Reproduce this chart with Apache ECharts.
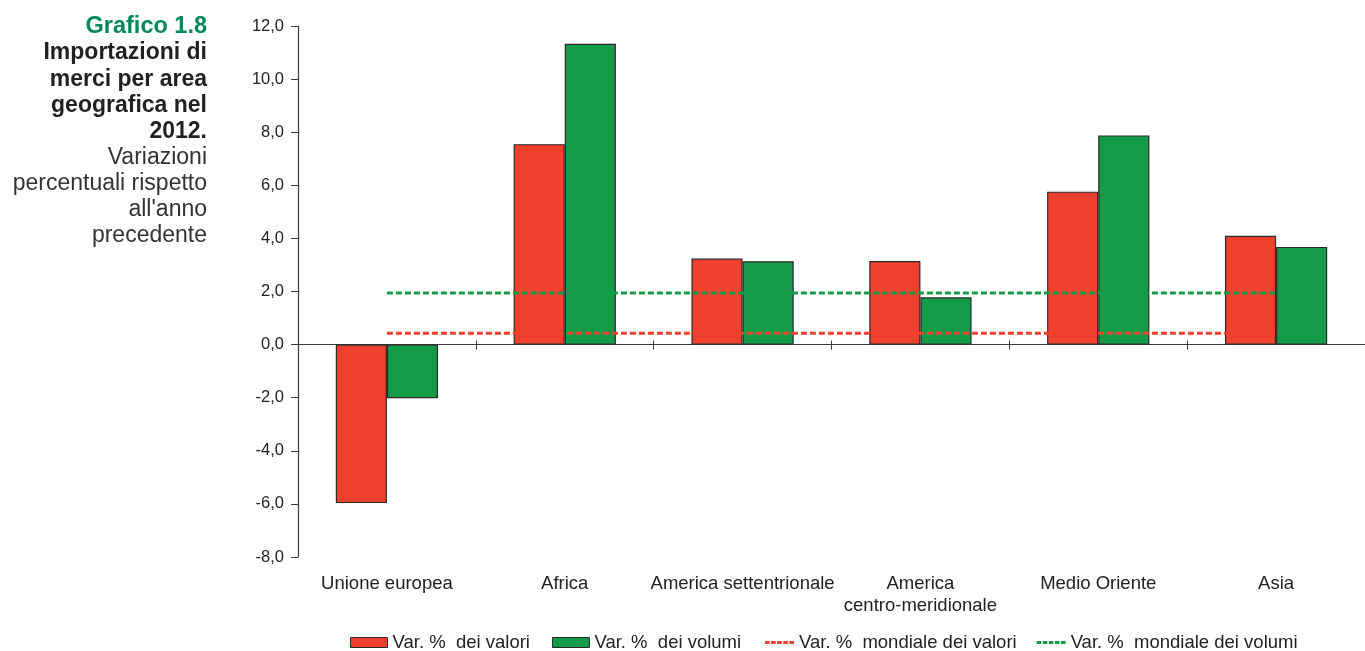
<!DOCTYPE html>
<html>
<head>
<meta charset="utf-8">
<script src="https://cdn.jsdelivr.net/npm/echarts@6/dist/echarts.min.js"></script>
<style>
html,body{margin:0;padding:0;background:#fff;}
#chart{width:1365px;height:651px;}
</style>
</head>
<body>
<div id="chart"></div>
<script>
var categories = ['Unione europea', 'Africa', 'America settentrionale', 'America\ncentro-meridionale', 'Medio Oriente', 'Asia'];
var valori = [-5.97, 7.55, 3.24, 3.15, 5.76, 4.10];
var volumi = [-2.02, 11.33, 3.14, 1.78, 7.88, 3.68];
var mondialeValori = [0.43, 0.43, 0.43, 0.43, 0.43, 0.43];
var mondialeVolumi = [1.94, 1.94, 1.94, 1.94, 1.94, 1.94];
var seriesNames = ['Var. %  dei valori', 'Var. %  dei volumi', 'Var. %  mondiale dei valori', 'Var. %  mondiale dei volumi'];
var titleLines = ['Grafico 1.8', 'Importazioni di', 'merci per area', 'geografica nel', '2012.', 'Variazioni', 'percentuali rispetto', "all'anno", 'precedente'];

var RED = '#EF412D', GREEN = '#149B48', BORDER = '#2a2a2a', AXIS = '#3c3c3c';
var FONT = '"Liberation Sans", Arial, Helvetica, sans-serif';
var DASH_ICON = 'path://M0,0h4.6v3h-4.6z M6.1,0h4.6v3h-4.6z M12.2,0h4.6v3h-4.6z M18.3,0h4.6v3h-4.6z M24.4,0h4.6v3h-4.6z';

var chart = echarts.init(document.getElementById('chart'));

var titleText = titleLines.map(function (t, i) {
  var s = i === 0 ? 'g' : (i <= 4 ? 'b' : 'n');
  return '{' + s + '|' + t + '}';
}).join('\n');

var option = {
  animation: false,
  textStyle: { fontFamily: FONT },
  graphic: [{
    type: 'text',
    right: 1365 - 207,
    top: 15,
    style: {
      text: titleText,
      align: 'right',
      fontFamily: FONT,
      rich: {
        g: { fontSize: 23.5, fontWeight: 'bold', fill: '#00875A', lineHeight: 26.1, align: 'right', fontFamily: FONT },
        b: { fontSize: 23, fontWeight: 'bold', fill: '#231F20', lineHeight: 26.1, align: 'right', fontFamily: FONT },
        n: { fontSize: 23, fontWeight: 'normal', fill: '#333333', lineHeight: 26.1, align: 'right', fontFamily: FONT }
      }
    }
  }],
  legend: [{
    data: [
      { name: seriesNames[0], icon: 'rect' },
      { name: seriesNames[1], icon: 'rect' }
    ],
    left: 345, top: 628,
    itemWidth: 37, itemHeight: 10, itemGap: 22,
    textStyle: { fontSize: 18.5, color: '#222', fontFamily: FONT },
    itemStyle: { borderColor: BORDER, borderWidth: 1 }
  }, {
    data: [
      { name: seriesNames[2], icon: DASH_ICON, itemStyle: { color: RED } },
      { name: seriesNames[3], icon: DASH_ICON, itemStyle: { color: GREEN } }
    ],
    left: 760, top: 628,
    itemWidth: 29, itemHeight: 3, itemGap: 20,
    textStyle: { fontSize: 18.5, color: '#222', fontFamily: FONT }
  }],
  grid: { left: 298, right: -7, top: 26, bottom: 94, containLabel: false },
  xAxis: [{
    type: 'category',
    data: categories,
    position: 'bottom',
    axisLine: { show: false, onZero: false },
    axisTick: { show: false },
    axisLabel: { interval: 0, margin: 16, fontSize: 18.5, lineHeight: 22, color: '#222', fontFamily: FONT }
  }, {
    type: 'category',
    data: categories,
    position: 'bottom',
    axisLine: { show: true, onZero: true, onZeroAxisIndex: 0, lineStyle: { color: AXIS, width: 1.2 } },
    axisTick: { show: true, length: 5, lineStyle: { color: AXIS, width: 1 } },
    axisLabel: { show: false }
  }, {
    type: 'category',
    data: categories,
    position: 'bottom',
    axisLine: { show: true, onZero: true, onZeroAxisIndex: 1, lineStyle: { color: AXIS, width: 1, opacity: 0 } },
    axisTick: { show: true, inside: true, length: 4, lineStyle: { color: AXIS, width: 1 } },
    axisLabel: { show: false }
  }],
  yAxis: [{
    type: 'value',
    min: -8, max: 12, interval: 2,
    axisLine: { show: true, lineStyle: { color: AXIS, width: 1.2 } },
    axisTick: { show: true, length: 7, lineStyle: { color: AXIS, width: 1 } },
    splitLine: { show: false },
    axisLabel: {
      margin: 14, fontSize: 16.5, color: '#222', fontFamily: FONT,
      formatter: function (v) { return v.toFixed(1).replace('.', ','); }
    }
  }, {
    type: 'value',
    min: -8, max: 12, interval: 2,
    position: 'right',
    axisLine: { show: false },
    axisTick: { show: false },
    axisLabel: { show: false },
    splitLine: { show: false }
  }],
  series: [{
    name: seriesNames[0], type: 'bar', data: valori, xAxisIndex: 0, yAxisIndex: 0,
    barGap: '0%', barCategoryGap: '42.5%',
    itemStyle: { color: RED, borderColor: BORDER, borderWidth: 1.2 },
    z: 2
  }, {
    name: seriesNames[1], type: 'bar', data: volumi, xAxisIndex: 0, yAxisIndex: 0,
    barGap: '0%', barCategoryGap: '42.5%',
    itemStyle: { color: GREEN, borderColor: BORDER, borderWidth: 1.2 },
    z: 2
  }, {
    name: seriesNames[2], type: 'line', data: mondialeValori, xAxisIndex: 0, yAxisIndex: 0,
    symbol: 'none', showSymbol: false,
    itemStyle: { color: RED },
    lineStyle: { color: RED, width: 3, type: [6, 3] },
    z: 4
  }, {
    name: seriesNames[3], type: 'line', data: mondialeVolumi, xAxisIndex: 0, yAxisIndex: 0,
    symbol: 'none', showSymbol: false,
    itemStyle: { color: GREEN },
    lineStyle: { color: GREEN, width: 3, type: [6, 3] },
    z: 4
  }]
};
chart.setOption(option);
</script>
</body>
</html>
